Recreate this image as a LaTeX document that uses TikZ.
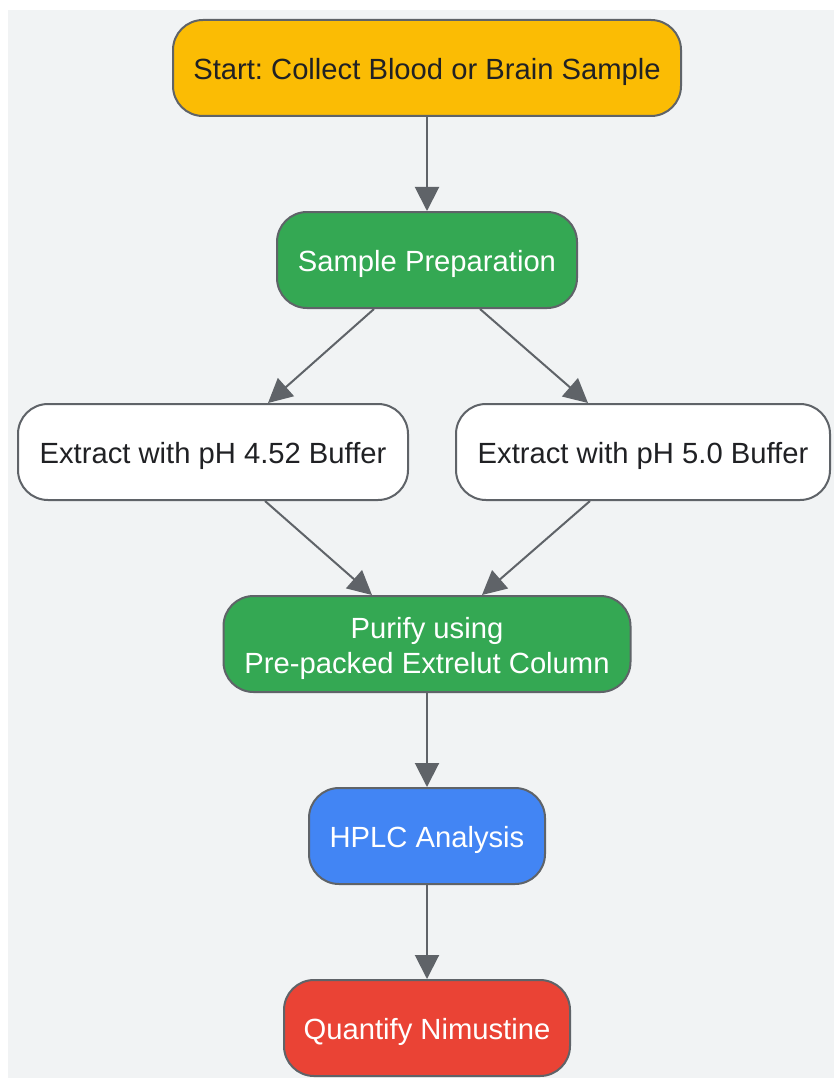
\documentclass[tikz,border=0pt]{standalone}
\usepackage{fontspec}
\setmainfont{Liberation Sans}
\usetikzlibrary{arrows.meta}
\frenchspacing

\definecolor{bg}{HTML}{F1F3F4}
\definecolor{edge}{HTML}{5F6368}
\definecolor{ink}{HTML}{202124}
\definecolor{gyellow}{HTML}{FBBC04}
\definecolor{ggreen}{HTML}{34A853}
\definecolor{gblue}{HTML}{4285F4}
\definecolor{gred}{HTML}{EA4335}

\begin{document}
\begin{tikzpicture}[x=1pt,y=-1pt,
    box/.style={draw=edge,line width=2pt,rounded corners=30pt,minimum height=96pt,
      align=center,text height=29pt,text depth=6pt,font=\fontsize{29.2}{35}\selectfont},
    flow/.style={-{Triangle[length=24pt,width=24pt]},draw=edge,line width=2pt}]
    \useasboundingbox (0,0) rectangle (834,1078);
    \fill[bg] (8,10) rectangle (834,1078);
    \node[box,fill=gyellow,text=ink,minimum width=508pt](start) at (427,68){Start: Collect Blood or Brain Sample};
    \node[box,fill=ggreen,text=white,minimum width=300pt](prep) at (427,260){Sample Preparation};
    \node[box,fill=white,text=ink,minimum width=390pt](exA) at (213,452){Extract with pH 4.52 Buffer};
    \node[box,fill=white,text=ink,minimum width=374pt](exB) at (643,452){Extract with pH 5.0 Buffer};
    \node[box,fill=ggreen,text=white,minimum width=407pt,text height=64pt](purify) at (427,644){Purify using\\Pre-packed Extrelut Column};
    \node[box,fill=gblue,text=white,minimum width=236pt](hplc) at (427,836){HPLC Analysis};
    \node[box,fill=gred,text=white,minimum width=286pt](quant) at (427,1028){Quantify Nimustine};
    \draw[flow] (start)--(prep);
    \draw[flow] ([xshift=-53pt]prep.south)--([xshift=55pt]exA.north);
    \draw[flow] ([xshift=53pt]prep.south)--([xshift=-55pt]exB.north);
    \draw[flow] ([xshift=52pt]exA.south)--([xshift=-55pt]purify.north);
    \draw[flow] ([xshift=-53pt]exB.south)--([xshift=55pt]purify.north);
    \draw[flow] (purify)--(hplc);
    \draw[flow] (hplc)--(quant);
  \end{tikzpicture}
\end{document}
